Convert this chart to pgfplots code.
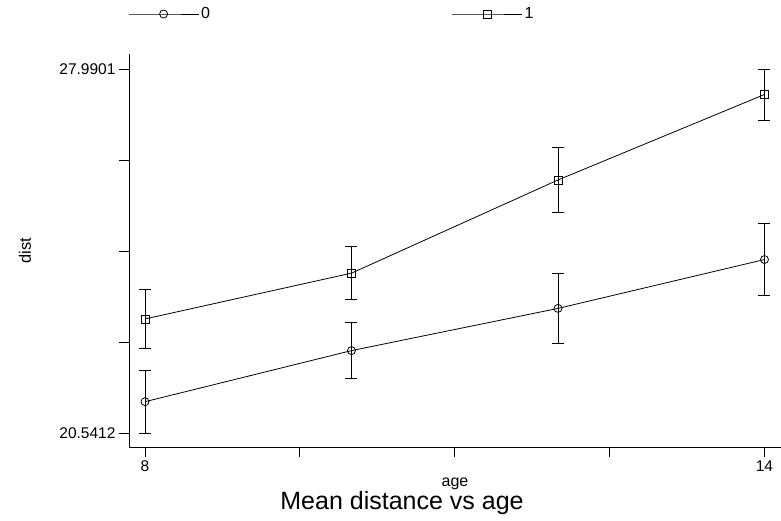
\documentclass[border=0pt]{standalone}
\usepackage{pgfplots}
\pgfplotsset{compat=1.18}
\usepackage{fontspec}
\setmainfont{Liberation Sans}
\begin{document}
\begin{tikzpicture}
\useasboundingbox (0,0) rectangle (781pt,520pt);
\begin{axis}[
  at={(129pt,73pt)}, anchor=south west,
  scale only axis, width=652pt, height=393pt,
  xmin=7.845, xmax=14.16, ymin=20.2547, ymax=28.297,
  axis lines=left, axis line style={-, line width=0.8pt},
  tick align=outside, major tick length=10pt,
  tick style={line width=0.8pt, black},
  xtick={8,9.5,11,12.5,14}, xticklabels={8,,,,14},
  ytick={20.5412,22.40343,24.26565,26.12788,27.9901},
  yticklabels={20.5412,,,,27.9901},
  /pgf/number format/assume math mode=true,
  ticklabel style={font=\fontsize{15.5}{18}\selectfont},
  xlabel={age}, ylabel={dist},
  xlabel style={at={(rel axis cs:0.5,0)}, anchor=center, yshift=-37pt, font=\fontsize{16}{19}\selectfont},
  ylabel style={at={(rel axis cs:0,0.5)}, anchor=center, rotate=0, yshift=104pt, font=\fontsize{16.5}{19}\selectfont},
  title={Mean distance vs age},
  title style={at={(rel axis cs:0.5,0)}, anchor=center, xshift=-53pt, yshift=-62pt, font=\fontsize{25}{30}\selectfont},
  legend columns=2,
  legend style={draw=none, fill=none, at={(rel axis cs:0,1)}, anchor=west, xshift=-4pt, yshift=40pt,
    font=\fontsize{16}{19}\selectfont,
    /tikz/every odd column/.append style={xshift=4pt},
    /tikz/every even column/.append style={column sep=240pt}},
  legend image code/.code={
    \draw[mark repeat=2,mark phase=2,#1] plot coordinates {(0pt,0pt) (35pt,0pt) (70pt,0pt)};
  },
]
\addplot[black, line width=0.8pt, mark=o, mark size=4pt, mark options={solid, line width=0.8pt},
  error bars/.cd, y dir=both, y explicit,
  error bar style={line width=0.8pt},
  error mark options={rotate=90, mark size=6pt, line width=0.8pt}]
coordinates {
  (8,21.1818) +- (0,0.6406)
  (10,22.2273) +- (0,0.573)
  (12,23.0909) +- (0,0.716)
  (14,24.0909) +- (0,0.737)
};
\addlegendentry{0}
\addplot[black, line width=0.8pt, mark=square, mark size=4pt, mark options={solid, line width=0.8pt},
  error bars/.cd, y dir=both, y explicit,
  error bar style={line width=0.8pt},
  error mark options={rotate=90, mark size=6pt, line width=0.8pt}]
coordinates {
  (8,22.875) +- (0,0.608)
  (10,23.8125) +- (0,0.538)
  (12,25.71875) +- (0,0.669)
  (14,27.46875) +- (0,0.5214)
};
\addlegendentry{1}
\end{axis}
\end{tikzpicture}
\end{document}
